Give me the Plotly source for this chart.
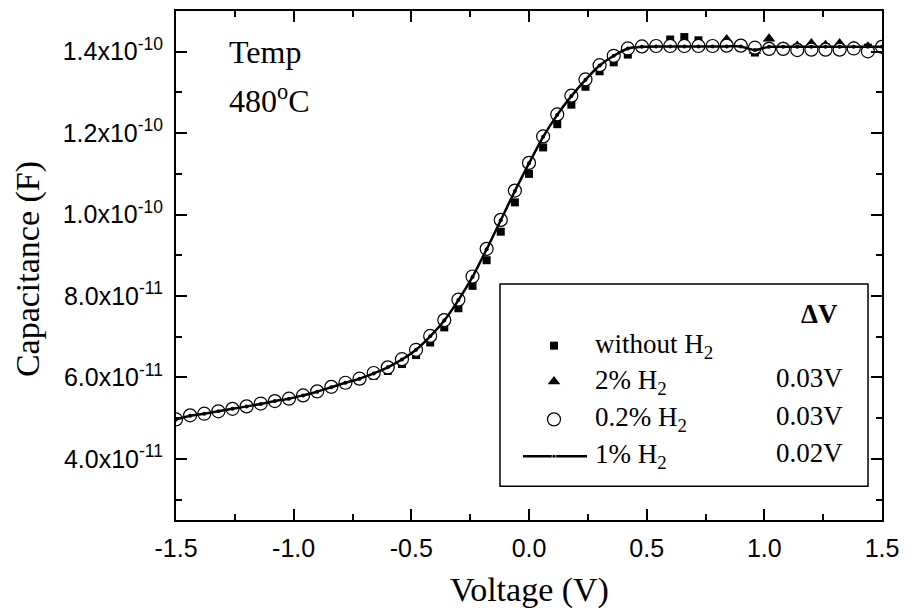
import plotly.graph_objects as go
import numpy as np

# ---------------- data ----------------
voltage = [-1.50, -1.44, -1.38, -1.32, -1.26, -1.20, -1.14, -1.08, -1.02, -0.96,
           -0.90, -0.84, -0.78, -0.72, -0.66, -0.60, -0.54, -0.48, -0.42, -0.36,
           -0.30, -0.24, -0.18, -0.12, -0.06, 0.00, 0.06, 0.12, 0.18, 0.24,
           0.30, 0.36, 0.42, 0.48, 0.54, 0.60, 0.66, 0.72, 0.78, 0.84,
           0.90, 0.96, 1.02, 1.08, 1.14, 1.20, 1.26, 1.32, 1.38, 1.44, 1.50]

# capacitance values in units of 1e-11 F
cap_without_h2 = [4.95, 5.04, 5.09, 5.15, 5.21, 5.27, 5.33, 5.39, 5.45, 5.52,
                  5.61, 5.72, 5.82, 5.92, 6.04, 6.16, 6.33, 6.55, 6.86, 7.23,
                  7.70, 8.25, 8.88, 9.58, 10.30, 11.00, 11.65, 12.22, 12.70, 13.14,
                  13.52, 13.74, 13.93, 14.10, 14.16, 14.30, 14.36, 14.28, 14.16, 14.16,
                  14.14, 13.98, 14.12, 14.12, 14.10, 14.12, 14.12, 14.11, 14.12, 14.10, 14.12]

cap_2pct_h2 = [4.97, 5.07, 5.11, 5.17, 5.23, 5.29, 5.36, 5.42, 5.48, 5.56,
               5.66, 5.77, 5.87, 5.97, 6.11, 6.25, 6.45, 6.68, 7.02, 7.41,
               7.91, 8.48, 9.16, 9.87, 10.59, 11.27, 11.92, 12.46, 12.92, 13.32,
               13.67, 13.90, 14.10, 14.13, 14.14, 14.16, 14.16, 14.15, 14.18, 14.30,
               14.18, 14.02, 14.32, 14.12, 14.14, 14.20, 14.16, 14.20, 14.14, 14.12, 14.14]

cap_02pct_h2 = [4.97, 5.07, 5.11, 5.17, 5.23, 5.29, 5.36, 5.42, 5.48, 5.56,
                5.66, 5.77, 5.87, 5.97, 6.11, 6.25, 6.45, 6.68, 7.02, 7.41,
                7.91, 8.48, 9.16, 9.87, 10.59, 11.27, 11.92, 12.46, 12.92, 13.32,
                13.67, 13.90, 14.08, 14.13, 14.14, 14.14, 14.14, 14.14, 14.14, 14.15,
                14.15, 14.10, 14.07, 14.07, 14.04, 14.05, 14.05, 14.05, 14.08, 14.01, 14.12]

cap_1pct_h2 = [4.97, 5.06, 5.11, 5.17, 5.23, 5.29, 5.35, 5.42, 5.48, 5.56,
               5.65, 5.76, 5.87, 5.97, 6.10, 6.25, 6.44, 6.68, 7.01, 7.40,
               7.90, 8.47, 9.15, 9.86, 10.58, 11.26, 11.91, 12.45, 12.91, 13.31,
               13.66, 13.90, 14.08, 14.12, 14.13, 14.13, 14.13, 14.13, 14.13, 14.13,
               14.13, 14.04, 14.12, 14.12, 14.12, 14.12, 14.12, 14.12, 14.12, 14.12, 14.12]

UNIT = 1e-11

legend_labels = ["without H<sub>2</sub>", "2% H<sub>2</sub>", "0.2% H<sub>2</sub>", "1% H<sub>2</sub>"]
delta_v = ["", "0.03V", "0.03V", "0.02V"]

x_tick_vals = [-1.5, -1.0, -0.5, 0.0, 0.5, 1.0, 1.5]
x_tick_text = ["-1.5", "-1.0", "-0.5", "0.0", "0.5", "1.0", "1.5"]
y_tick_vals = [4e-11, 6e-11, 8e-11, 1.0e-10, 1.2e-10, 1.4e-10]
y_tick_text = ["4.0x10<sup>-11</sup>", "6.0x10<sup>-11</sup>", "8.0x10<sup>-11</sup>",
               "1.0x10<sup>-10</sup>", "1.2x10<sup>-10</sup>", "1.4x10<sup>-10</sup>"]

# ---------------- styles ----------------
SERIF = "Liberation Serif, Times New Roman, serif"
SANS = "Liberation Sans, Arial, sans-serif"
BLACK = "black"

sq_marker = dict(symbol="square", size=8, color=BLACK, line=dict(width=0))
tri_marker = dict(symbol="triangle-up", size=11, color=BLACK, line=dict(width=0))
circ_marker = dict(symbol="circle", size=13, color="white", line=dict(width=1.2, color=BLACK))
line_marker = dict(symbol="circle", size=4, color=BLACK)

fig = go.Figure()
v = np.array(voltage)
fig.add_trace(go.Scatter(x=v, y=np.array(cap_without_h2) * UNIT, mode="markers",
                         marker=sq_marker, showlegend=False))
fig.add_trace(go.Scatter(x=v, y=np.array(cap_2pct_h2) * UNIT, mode="markers",
                         marker=tri_marker, showlegend=False))
fig.add_trace(go.Scatter(x=v, y=np.array(cap_02pct_h2) * UNIT, mode="markers",
                         marker=circ_marker, showlegend=False))
fig.add_trace(go.Scatter(x=v, y=np.array(cap_1pct_h2) * UNIT, mode="lines+markers",
                         line=dict(color=BLACK, width=2.5, shape="spline", smoothing=0.6),
                         marker=line_marker, showlegend=False))

# ---------------- manual legend (overlay axes 0..1 over plot area) ----------------
L_KEY_X = 0.5354
row_y = [0.3425, 0.272, 0.1977, 0.1252]
fig.add_trace(go.Scatter(x=[L_KEY_X], y=[row_y[0]], xaxis="x2", yaxis="y2", mode="markers",
                         marker=sq_marker, showlegend=False, hoverinfo="skip"))
fig.add_trace(go.Scatter(x=[L_KEY_X], y=[row_y[1]], xaxis="x2", yaxis="y2", mode="markers",
                         marker=tri_marker, showlegend=False, hoverinfo="skip"))
fig.add_trace(go.Scatter(x=[L_KEY_X], y=[row_y[2]], xaxis="x2", yaxis="y2", mode="markers",
                         marker=circ_marker, showlegend=False, hoverinfo="skip"))
fig.add_trace(go.Scatter(x=[0.4915, L_KEY_X, 0.5822], y=[row_y[3]] * 3, xaxis="x2", yaxis="y2",
                         mode="lines+markers", line=dict(color=BLACK, width=2.5),
                         marker=dict(symbol="circle", size=[0, 4, 0], color=BLACK),
                         showlegend=False, hoverinfo="skip"))

LEG_FONT = 27
annotations = []
for lbl, dv, yy in zip(legend_labels, delta_v, row_y):
    annotations.append(dict(x=0.5907, y=yy, xref="paper", yref="paper", text=lbl,
                            showarrow=False, xanchor="left", yanchor="middle",
                            font=dict(family=SERIF, size=LEG_FONT, color=BLACK)))
    if dv:
        annotations.append(dict(x=0.9476, y=yy + 0.006, xref="paper", yref="paper", text=dv,
                                showarrow=False, xanchor="right", yanchor="middle",
                                font=dict(family=SERIF, size=LEG_FONT, color=BLACK)))
annotations.append(dict(x=0.9405, y=0.405, xref="paper", yref="paper", text="<b>ΔV</b>",
                        showarrow=False, xanchor="right", yanchor="middle",
                        font=dict(family=SERIF, size=LEG_FONT, color=BLACK)))
annotations.append(dict(x=0.0722, y=0.9198, xref="paper", yref="paper", text="Temp",
                        showarrow=False, xanchor="left", yanchor="middle",
                        font=dict(family=SERIF, size=32, color=BLACK)))
annotations.append(dict(x=0.0722, y=0.8278, xref="paper", yref="paper", text="480<sup>o</sup>C",
                        showarrow=False, xanchor="left", yanchor="middle",
                        font=dict(family=SERIF, size=32, color=BLACK)))
annotations.append(dict(x=0.5014, y=-0.137, xref="paper", yref="paper", text="Voltage (V)",
                        showarrow=False, xanchor="center", yanchor="middle",
                        font=dict(family=SERIF, size=34, color=BLACK)))
annotations.append(dict(x=-0.2096, y=0.493, xref="paper", yref="paper", text="Capacitance (F)",
                        showarrow=False, xanchor="center", yanchor="middle", textangle=-90,
                        font=dict(family=SERIF, size=34, color=BLACK)))

shapes = [dict(type="rect", xref="paper", yref="paper", x0=0.4589, x1=0.9802, y0=0.0665, y1=0.4638,
               line=dict(color=BLACK, width=1.5), fillcolor="rgba(0,0,0,0)", layer="above")]

axis_common = dict(showline=True, linecolor=BLACK, linewidth=2, mirror="ticks",
                   ticks="inside", ticklen=11, tickwidth=2, tickcolor=BLACK,
                   showgrid=False, zeroline=False,
                   tickfont=dict(family=SANS, size=25, color=BLACK))

fig.update_layout(
    width=909, height=614,
    margin=dict(l=176, r=27, t=9, b=94),
    paper_bgcolor="white", plot_bgcolor="white",
    xaxis=dict(range=[-1.5, 1.5], tickmode="array", tickvals=x_tick_vals, ticktext=x_tick_text,
               minor=dict(dtick=0.25, tick0=0, ticks="inside", ticklen=6, tickwidth=2, tickcolor=BLACK),
               ticklabelstandoff=5, **axis_common),
    yaxis=dict(range=[2.5e-11, 1.5e-10], tickmode="array", tickvals=y_tick_vals, ticktext=y_tick_text,
               minor=dict(dtick=1e-11, tick0=0, ticks="inside", ticklen=6, tickwidth=2, tickcolor=BLACK),
               ticklabelstandoff=6, **axis_common),
    xaxis2=dict(range=[0, 1], overlaying="x", visible=False, fixedrange=True),
    yaxis2=dict(range=[0, 1], overlaying="y", visible=False, fixedrange=True),
    annotations=annotations,
    shapes=shapes,
    showlegend=False,
)

fig.write_html("out.html")
